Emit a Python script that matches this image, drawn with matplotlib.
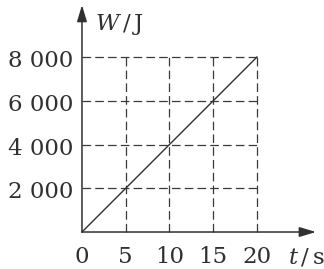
import matplotlib
matplotlib.use("Agg")
import matplotlib.pyplot as plt
from matplotlib.patches import ArrowStyle

# Work W (J) against time t (s)
t = [0, 5, 10, 15, 20]
W = [0, 2000, 4000, 6000, 8000]

x_ticks = [0, 5, 10, 15, 20]
x_tick_labels = ["0", "5", "10", "15", "20"]
y_ticks = [2000, 4000, 6000, 8000]
y_tick_labels = ["2 000", "4 000", "6 000", "8 000"]

plt.rcParams["font.family"] = "DejaVu Serif"
plt.rcParams["mathtext.fontset"] = "custom"
plt.rcParams["mathtext.rm"] = "DejaVu Serif"
plt.rcParams["mathtext.it"] = "DejaVu Serif:italic"
plt.rcParams["lines.scale_dashes"] = False

ink = "#303030"
fs = 16.5

fig = plt.figure(figsize=(3.24, 2.69), dpi=100)
ax = fig.add_axes([0, 0, 1, 1])
ax.set_xlim(-9.37, 27.66)
ax.set_ylim(-1691, 10606)
ax.axis("off")

# dashed guide lines
dash = (0, (6.2, 3.0))
for v in x_ticks[1:]:
    ax.plot([v, v], [0, max(W)], color="#3a3a3a", lw=0.9, linestyle=dash)
for v in y_ticks:
    ax.plot([0, max(t)], [v, v], color="#3a3a3a", lw=0.9, linestyle=dash)

# the W-t line
ax.plot(t, W, color=ink, lw=1.0)

# axes with arrow heads
head = ArrowStyle("-|>", head_length=1.0, head_width=0.3)
ax.annotate("", xy=(26.74, 0), xytext=(0, 0),
            arrowprops=dict(arrowstyle=head, color=ink, lw=1.1,
                            mutation_scale=10, shrinkA=0, shrinkB=0))
ax.annotate("", xy=(0, 10377), xytext=(0, 0),
            arrowprops=dict(arrowstyle=head, color=ink, lw=1.1,
                            mutation_scale=10, shrinkA=0, shrinkB=0))

# tick labels
for v, s in zip(x_ticks, x_tick_labels):
    ax.text(v, -1417, s, ha="center", va="baseline", fontsize=fs, color=ink)
for v, s in zip(y_ticks, y_tick_labels):
    ax.text(-1.03, v - 457, s, ha="right", va="baseline", fontsize=fs, color=ink)

# axis names
ax.text(1.49, 9234, r"$W\,/\,\mathrm{J}$", ha="left", va="baseline", fontsize=fs, color=ink)
ax.text(23.5, -1417, r"$t\,/\,\mathrm{s}$", ha="left", va="baseline", fontsize=fs, color=ink)

fig.savefig("out.png", dpi=100, facecolor="white")
